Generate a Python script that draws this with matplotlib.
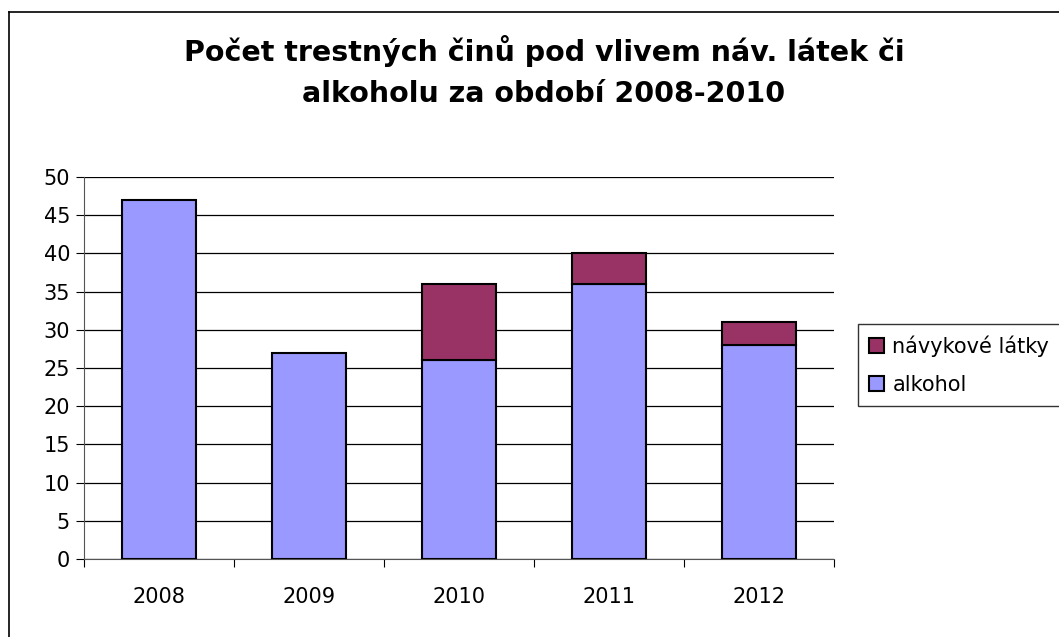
import numpy as np
import matplotlib.pyplot as plt
from matplotlib.lines import Line2D

plt.rcParams['font.family'] = ['DejaVu Sans']

years = ['2008', '2009', '2010', '2011', '2012']
alkohol = [47, 27, 26, 36, 28]
navykove = [0, 0, 10, 4, 3]

W, H = 1059, 637
fig = plt.figure(figsize=(W / 100, H / 100), dpi=100)

# outer chart frame (only top and left edges visible)
fig.add_artist(Line2D([9 / W, 9 / W], [0, 1 - 12 / H], color='black', lw=1.2))
fig.add_artist(Line2D([9 / W, 1], [1 - 12 / H, 1 - 12 / H], color='black', lw=1.2))

ax = fig.add_axes([84 / W, 1 - 559 / H, (834 - 84) / W, (559 - 177) / H])

x = np.arange(len(years))
ax.bar(x, alkohol, width=0.49, color='#9999ff', edgecolor='black', linewidth=1.5,
       label='alkohol', zorder=3)
nav_x = [xi for xi, v in zip(x, navykove) if v > 0]
nav_v = [v for v in navykove if v > 0]
nav_b = [a for a, v in zip(alkohol, navykove) if v > 0]
ax.bar(nav_x, nav_v, bottom=nav_b, width=0.49, color='#993366', edgecolor='black',
       linewidth=1.5, label='návykové látky', zorder=3)

ax.set_xlim(-0.5, 4.5)
ax.set_ylim(0, 50)
ax.set_yticks(range(0, 51, 5))
ax.set_xticks(x)
ax.set_xticklabels(years)
ax.set_xticks(np.arange(-0.5, 5, 1), minor=True)
ax.tick_params(axis='x', which='major', length=0, pad=20, labelsize=15)
ax.tick_params(axis='x', which='minor', length=6, width=0.8, direction='out')
ax.tick_params(axis='y', length=6, width=0.8, direction='out', labelsize=15, pad=4)
ax.yaxis.grid(True, color='black', linewidth=0.9, zorder=0)
for s in ['top', 'right']:
    ax.spines[s].set_visible(False)
ax.spines['left'].set_color('#555555')
ax.spines['bottom'].set_color('#555555')

handles, labels = ax.get_legend_handles_labels()
leg = fig.legend(handles[::-1], labels[::-1], loc='upper left',
                 bbox_to_anchor=(858 / W, 1 - 324 / H), fontsize=15,
                 frameon=True, fancybox=False, edgecolor='black',
                 handlelength=0.7, handleheight=0.7, handletextpad=0.4,
                 labelspacing=0.85, borderpad=0.55, borderaxespad=0)
leg.get_frame().set_linewidth(1.0)

fig.text(544 / W, 1 - 61 / H, 'Počet trestných činů pod vlivem náv. látek či',
         ha='center', va='baseline', fontsize=20.5, fontweight='bold')
fig.text(544 / W, 1 - 102 / H, 'alkoholu za období 2008-2010',
         ha='center', va='baseline', fontsize=20.5, fontweight='bold')

fig.savefig('out.png', dpi=100)
